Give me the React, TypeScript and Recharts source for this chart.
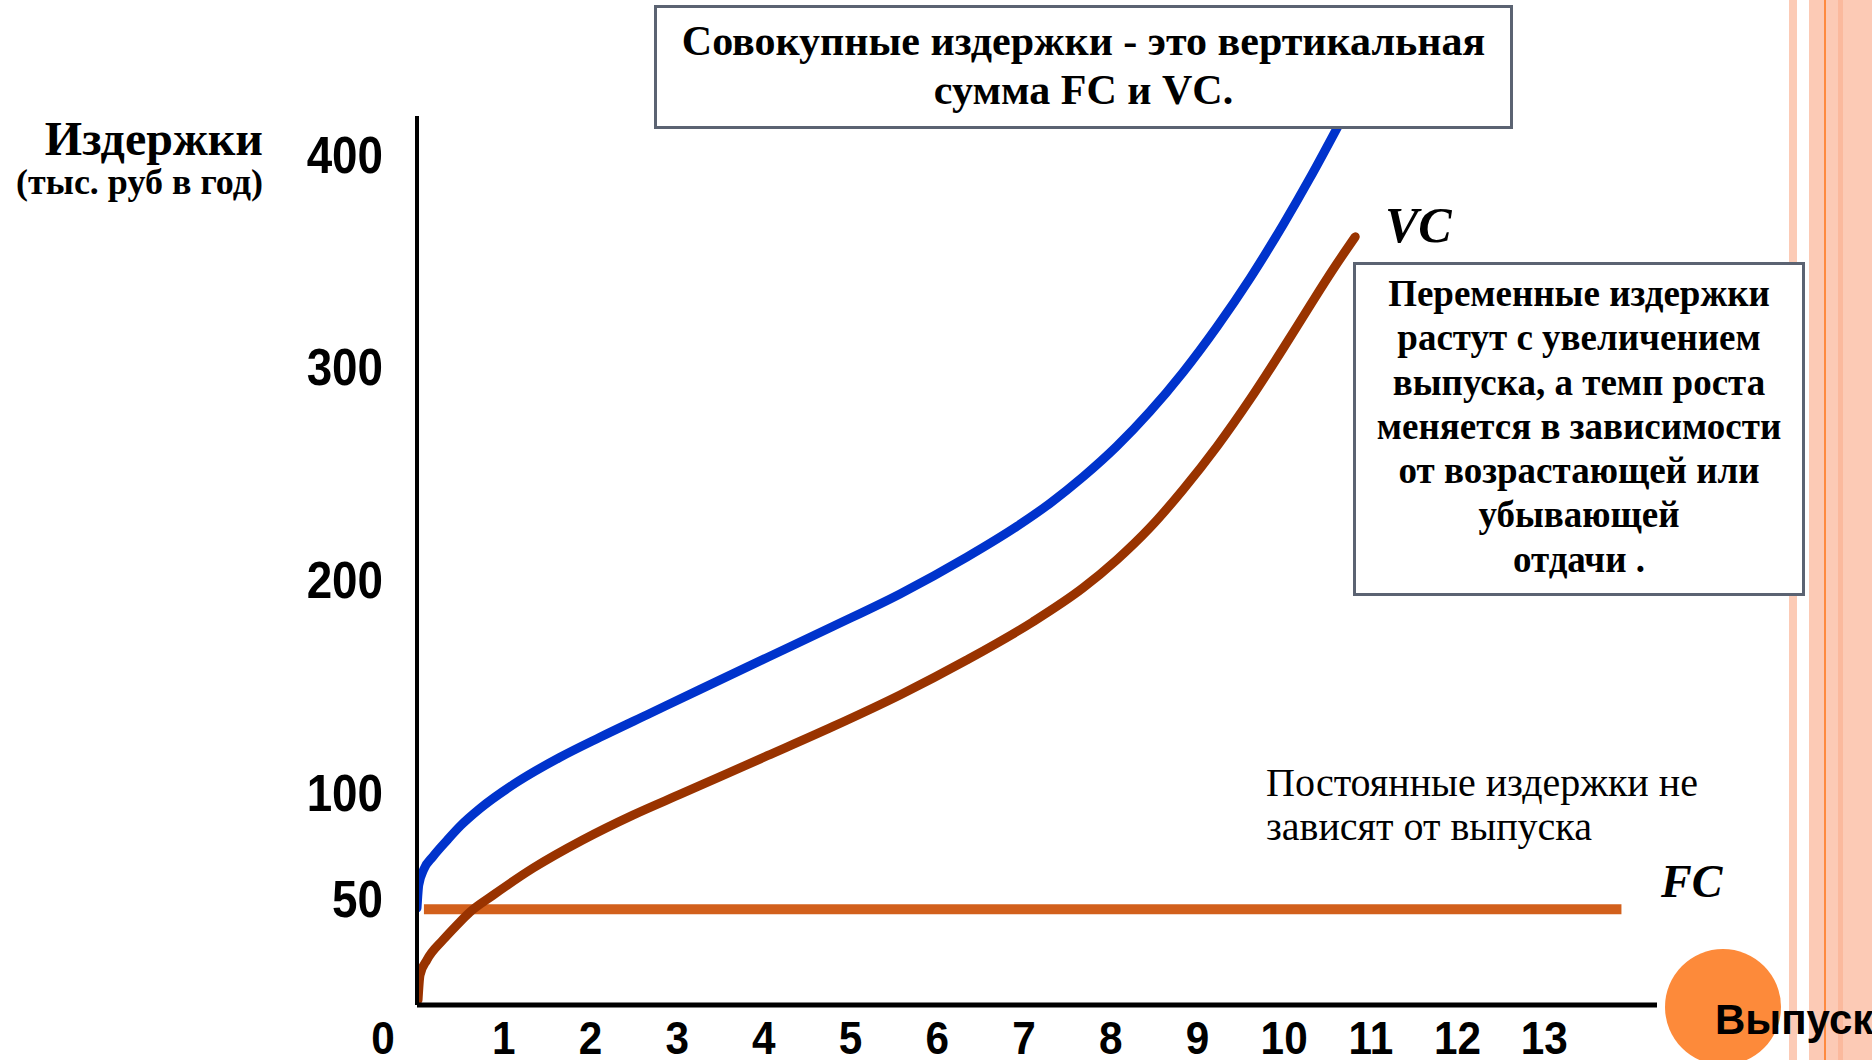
import React from "react";
import { LineChart, Line, XAxis, YAxis } from "recharts";

const serif = "'Liberation Serif', 'Times New Roman', serif";
const sans = "'Liberation Sans', Arial, sans-serif";

// axis ticks
const outputTicks = [0, 1, 2, 3, 4, 5, 6, 7, 8, 9, 10, 11, 12, 13];
const costTicks = [50, 100, 200, 300, 400];

// TC — total costs (blue)
const tcOutput = [0, 0.02, 0.08, 0.18, 0.35, 0.5, 0.73, 1.15, 1.65, 2.11, 2.69, 3.26, 4.04, 4.8, 5.57, 6.34, 6.92, 7.3, 7.68, 8.07, 8.45, 8.83, 9.23, 9.61, 9.99, 10.3, 10.59, 10.68];
const tcCost = [45.6, 56.4, 63.9, 69.6, 77.6, 84.2, 92.5, 104.7, 116.5, 125.9, 137.2, 148.3, 163.4, 178.1, 193.3, 210.6, 225.1, 235.9, 248.3, 262.7, 278.9, 297.3, 319.1, 341.9, 367, 389, 410.8, 417.7];

// VC — variable costs (brown)
const vcOutput = [0.012, 0.035, 0.115, 0.3, 0.46, 0.61, 0.88, 1.34, 1.91, 2.49, 3.07, 3.49, 4.04, 4.8, 5.57, 6.34, 7.1, 7.68, 8.07, 8.45, 8.83, 9.23, 9.61, 9.99, 10.3, 10.56, 10.82];
const vcCost = [2.4, 14.1, 21.2, 30.6, 37.6, 43.7, 51.7, 64.4, 77.6, 89.3, 99.7, 107.3, 117.2, 131, 145.8, 162.2, 180.1, 196.1, 209.3, 224.3, 242.1, 262.9, 284.9, 308.8, 329, 345.6, 361.2];

// FC — fixed costs (orange)
const fcOutput = [0.08, 13.89];
const fcCost = [45, 45];

const toPoints = (xs: number[], ys: number[]) => xs.map((x, i) => ({ output: x, cost: ys[i] }));

const tcData = toPoints(tcOutput, tcCost);
const vcData = toPoints(vcOutput, vcCost);
const fcData = toPoints(fcOutput, fcCost);

const vcNote = [
  "Переменные издержки",
  "растут с увеличением",
  "выпуска, а темп роста",
  "меняется в зависимости",
  "от возрастающей или",
  "убывающей",
  "отдачи .",
];

// tick labels are a bit condensed in the original
function OutputTick({ x, y, payload }: any) {
  const shift = payload.value === 0 ? -34 : 0;
  return (
    <text
      transform={`translate(${x + shift},${y - 3}) scale(0.92,1)`}
      dy="0.71em"
      textAnchor="middle"
      fontFamily={sans}
      fontSize={46}
      fontWeight={700}
      fill="#000"
    >
      {payload.value}
    </text>
  );
}

function CostTick({ x, y, payload }: any) {
  return (
    <text
      transform={`translate(${x},${y}) scale(0.88,1)`}
      dy="0.355em"
      textAnchor="end"
      fontFamily={sans}
      fontSize={52}
      fontWeight={700}
      fill="#000"
    >
      {payload.value}
    </text>
  );
}

const abs = (s: React.CSSProperties): React.CSSProperties => ({ position: "absolute", margin: 0, ...s });

export default function App() {
  return (
    <div style={abs({ left: 0, top: 0, width: 1872, height: 1060, overflow: "hidden", background: "#fff" })}>
      {/* decorative stripes on the right */}
      <div style={abs({ left: 1789, top: 0, width: 8, height: 1060, background: "#fccbb6" })} />
      <div style={abs({ left: 1809, top: 0, width: 63, height: 1060, background: "#fccab5" })} />
      <div style={abs({ left: 1838, top: 0, width: 5, height: 1060, background: "#fbb99d" })} />
      <div style={abs({ left: 1824, top: 0, width: 2, height: 1060, background: "#fe8a3f" })} />

      <div style={abs({ left: 0, top: 0 })}>
        <LineChart width={1872} height={1060} margin={{ top: 116, right: 215, bottom: 0, left: 0 }}>
          <XAxis
            type="number"
            dataKey="output"
            domain={[0, 14.3]}
            allowDataOverflow
            ticks={outputTicks}
            interval={0}
            height={55}
            tickSize={0}
            tickMargin={19}
            tickLine={false}
            axisLine={{ stroke: "#000", strokeWidth: 5 }}
            tick={<OutputTick />}
          />
          <YAxis
            type="number"
            dataKey="cost"
            domain={[0, 418]}
            allowDataOverflow
            ticks={costTicks}
            interval={0}
            width={417}
            tickSize={0}
            tickMargin={34}
            tickLine={false}
            axisLine={{ stroke: "#000", strokeWidth: 4 }}
            tick={<CostTick />}
          />
          <Line
            data={fcData}
            dataKey="cost"
            type="linear"
            stroke="#d2601c"
            strokeWidth={10}
            strokeLinecap="butt"
            dot={false}
            activeDot={false}
            isAnimationActive={false}
          />
          <Line
            data={tcData}
            dataKey="cost"
            type="monotone"
            stroke="#0033cc"
            strokeWidth={9}
            strokeLinecap="round"
            dot={false}
            activeDot={false}
            isAnimationActive={false}
          />
          <Line
            data={vcData}
            dataKey="cost"
            type="monotone"
            stroke="#993300"
            strokeWidth={9}
            strokeLinecap="round"
            dot={false}
            activeDot={false}
            isAnimationActive={false}
          />
        </LineChart>
      </div>

      {/* y axis title */}
      <div style={abs({ left: 0, top: 115, width: 263, textAlign: "right", fontFamily: serif, fontWeight: 700, fontSize: 48, lineHeight: "48px", whiteSpace: "nowrap" })}>
        Издержки
      </div>
      <div style={abs({ left: 0, top: 164, width: 263, textAlign: "right", fontFamily: serif, fontWeight: 700, fontSize: 36, lineHeight: "36px", whiteSpace: "nowrap" })}>
        (тыс. руб в год)
      </div>

      {/* top note */}
      <div
        style={abs({
          left: 654,
          top: 5,
          width: 859,
          height: 124,
          boxSizing: "border-box",
          border: "3px solid #5b6372",
          background: "#fff",
          paddingTop: 9,
          textAlign: "center",
          fontFamily: serif,
          fontWeight: 700,
          fontSize: 42,
          lineHeight: "49px",
        })}
      >
        <div>Совокупные издержки - это вертикальная</div>
        <div>сумма FC и VC.</div>
      </div>

      {/* VC label */}
      <div style={abs({ left: 1385, top: 200, fontFamily: serif, fontWeight: 700, fontStyle: "italic", fontSize: 50, lineHeight: "50px" })}>
        VC
      </div>

      {/* VC note */}
      <div
        style={abs({
          left: 1353,
          top: 262,
          width: 452,
          height: 334,
          boxSizing: "border-box",
          border: "3px solid #5b6372",
          background: "#fff",
          paddingTop: 7,
          textAlign: "center",
          fontFamily: serif,
          fontWeight: 700,
          fontSize: 37,
          lineHeight: "44.3px",
        })}
      >
        {vcNote.map((l) => (
          <div key={l} style={{ whiteSpace: "nowrap" }}>{l}</div>
        ))}
      </div>

      {/* FC note */}
      <div style={abs({ left: 1266, top: 761, fontFamily: serif, fontSize: 40, lineHeight: "44px", whiteSpace: "nowrap" })}>
        <div>Постоянные издержки не</div>
        <div>зависят от выпуска</div>
      </div>

      {/* FC label */}
      <div style={abs({ left: 1661, top: 859, fontFamily: serif, fontWeight: 700, fontStyle: "italic", fontSize: 46, lineHeight: "46px" })}>
        FC
      </div>

      {/* x axis title */}
      <div style={abs({ left: 1665, top: 949, width: 116, height: 116, borderRadius: "50%", background: "#fd8a3a" })} />
      <div style={abs({ left: 1715, top: 999, fontFamily: sans, fontWeight: 700, fontSize: 42, lineHeight: "42px", whiteSpace: "nowrap" })}>
        Выпуск
      </div>
    </div>
  );
}
